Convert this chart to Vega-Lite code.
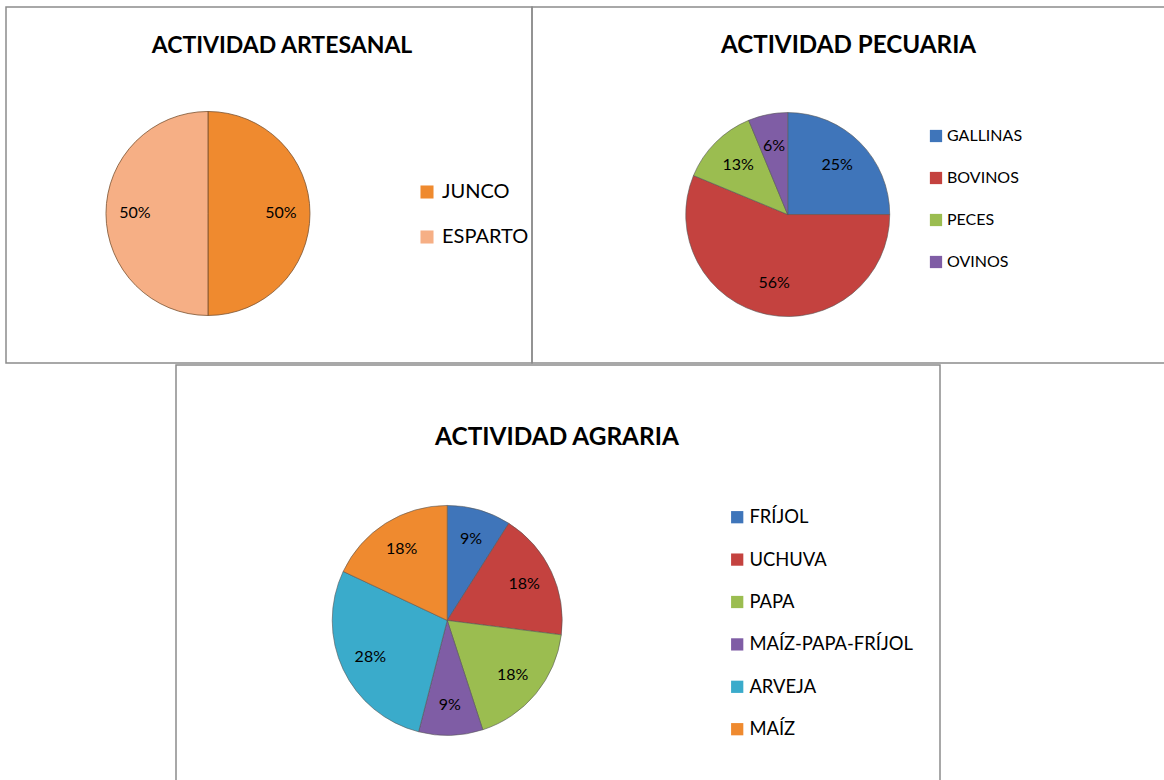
{
  "$schema": "https://vega.github.io/schema/vega-lite/v6.json",
  "padding": {"left": 5, "top": 6, "right": 0, "bottom": 0},
  "background": "white",
  "datasets": {
    "artesanal": [
      {"cat": "JUNCO", "share": 0.5, "idx": 1},
      {"cat": "ESPARTO", "share": 0.5, "idx": 2}
    ],
    "pecuaria": [
      {"cat": "GALLINAS", "share": 0.25, "idx": 1},
      {"cat": "BOVINOS", "share": 0.5625, "idx": 2},
      {"cat": "PECES", "share": 0.125, "idx": 3},
      {"cat": "OVINOS", "share": 0.0625, "idx": 4}
    ],
    "agraria": [
      {"cat": "FRÍJOL", "share": 0.09, "idx": 1},
      {"cat": "UCHUVA", "share": 0.18, "idx": 2},
      {"cat": "PAPA", "share": 0.18, "idx": 3},
      {"cat": "MAÍZ-PAPA-FRÍJOL", "share": 0.09, "idx": 4},
      {"cat": "ARVEJA", "share": 0.28, "idx": 5},
      {"cat": "MAÍZ", "share": 0.18, "idx": 6}
    ]
  },
  "config": {
    "view": {"stroke": "#8c8c8c", "strokeWidth": 1.5},
    "font": "Lato",
    "title": {"color": "#000000", "fontWeight": "bold", "baseline": "alphabetic", "anchor": "middle", "font": "Lato"},
    "legend": {"title": null, "symbolType": "square", "symbolStrokeWidth": 0, "padding": 0, "labelColor": "#000000", "labelLimit": 400, "orient": "none", "labelFont": "Lato"},
    "text": {"color": "#000000", "font": "Lato"}
  },
  "spacing": 0,
  "resolve": {
    "scale": {"color": "independent", "theta": "independent", "x": "independent", "y": "independent"},
    "legend": {"color": "independent"}
  },
  "vconcat": [
    {
      "spacing": 0,
      "bounds": "flush",
      "resolve": {
        "scale": {"color": "independent", "theta": "independent", "x": "independent", "y": "independent"},
        "legend": {"color": "independent"}
      },
      "hconcat": [
        {
          "width": 526,
          "height": 356,
          "title": {"text": "ACTIVIDAD ARTESANAL", "fontSize": 23, "offset": -51, "dx": 13},
          "data": {"name": "artesanal"},
          "encoding": {
            "theta": {"field": "share", "type": "quantitative", "stack": true},
            "order": {"field": "idx", "type": "quantitative", "sort": "ascending"},
            "x": {"datum": 0.384, "type": "quantitative", "scale": {"domain": [0, 1]}, "axis": null},
            "y": {"datum": 0.58, "type": "quantitative", "scale": {"domain": [0, 1], "reverse": true}, "axis": null}
          },
          "layer": [
            {
              "mark": {"type": "arc", "radius": 102, "stroke": "#7a5230", "strokeWidth": 0.8},
              "encoding": {
                "color": {
                  "field": "cat", "type": "nominal",
                  "scale": {"domain": ["JUNCO", "ESPARTO"], "range": ["#EF8A2F", "#F6AF85"]},
                  "legend": {"legendX": 411, "legendY": 175, "symbolSize": 170, "labelFontSize": 20, "rowPadding": 25, "labelOffset": 5}
                }
              }
            },
            {
              "mark": {"type": "text", "radius": 73, "fontSize": 16},
              "encoding": {"text": {"field": "share", "type": "quantitative", "format": ".0%"}}
            }
          ]
        },
        {
          "width": 633,
          "height": 356,
          "title": {"text": "ACTIVIDAD PECUARIA", "fontSize": 24.2, "offset": -51},
          "data": {"name": "pecuaria"},
          "encoding": {
            "theta": {"field": "share", "type": "quantitative", "stack": true},
            "order": {"field": "idx", "type": "quantitative", "sort": "ascending"},
            "x": {"datum": 0.404, "type": "quantitative", "scale": {"domain": [0, 1]}, "axis": null},
            "y": {"datum": 0.583, "type": "quantitative", "scale": {"domain": [0, 1], "reverse": true}, "axis": null}
          },
          "layer": [
            {
              "mark": {"type": "arc", "radius": 102, "stroke": "#555555", "strokeWidth": 0.6},
              "encoding": {
                "color": {
                  "field": "cat", "type": "nominal",
                  "scale": {"domain": ["GALLINAS", "BOVINOS", "PECES", "OVINOS"], "range": ["#3F75BA", "#C4423F", "#9BBD50", "#7F5DA5"]},
                  "legend": {"legendX": 396, "legendY": 121, "symbolSize": 150, "labelFontSize": 16, "rowPadding": 26, "labelOffset": 3}
                }
              }
            },
            {
              "mark": {"type": "text", "radius": 70, "fontSize": 16},
              "encoding": {"text": {"field": "share", "type": "quantitative", "format": ".0%"}}
            }
          ]
        }
      ]
    },
    {
      "spacing": 0,
      "bounds": "flush",
      "resolve": {
        "scale": {"color": "independent", "theta": "independent", "x": "independent", "y": "independent"},
        "legend": {"color": "independent"}
      },
      "hconcat": [
        {
          "width": 170,
          "height": 416,
          "view": {"stroke": null},
          "data": {"values": []},
          "mark": {"type": "point", "opacity": 0},
          "encoding": {}
        },
        {
          "width": 764,
          "height": 416,
          "title": {"text": "ACTIVIDAD AGRARIA", "fontSize": 24.4, "offset": -85, "dx": -1},
          "data": {"name": "agraria"},
          "encoding": {
            "theta": {"field": "share", "type": "quantitative", "stack": true},
            "order": {"field": "idx", "type": "quantitative", "sort": "ascending"},
            "x": {"datum": 0.355, "type": "quantitative", "scale": {"domain": [0, 1]}, "axis": null},
            "y": {"datum": 0.614, "type": "quantitative", "scale": {"domain": [0, 1], "reverse": true}, "axis": null}
          },
          "layer": [
            {
              "mark": {"type": "arc", "radius": 115, "stroke": "#555555", "strokeWidth": 0.6},
              "encoding": {
                "color": {
                  "field": "cat", "type": "nominal",
                  "scale": {"domain": ["FRÍJOL", "UCHUVA", "PAPA", "MAÍZ-PAPA-FRÍJOL", "ARVEJA", "MAÍZ"], "range": ["#3F75BA", "#C4423F", "#9BBD50", "#7F5DA5", "#3AABCB", "#EF8A2F"]},
                  "legend": {"legendX": 552, "legendY": 143, "symbolSize": 150, "labelFontSize": 18.4, "rowPadding": 23.4, "labelOffset": 3}
                }
              }
            },
            {
              "mark": {"type": "text", "radius": 85, "fontSize": 16},
              "encoding": {"text": {"field": "share", "type": "quantitative", "format": ".0%"}}
            }
          ]
        }
      ]
    }
  ]
}
